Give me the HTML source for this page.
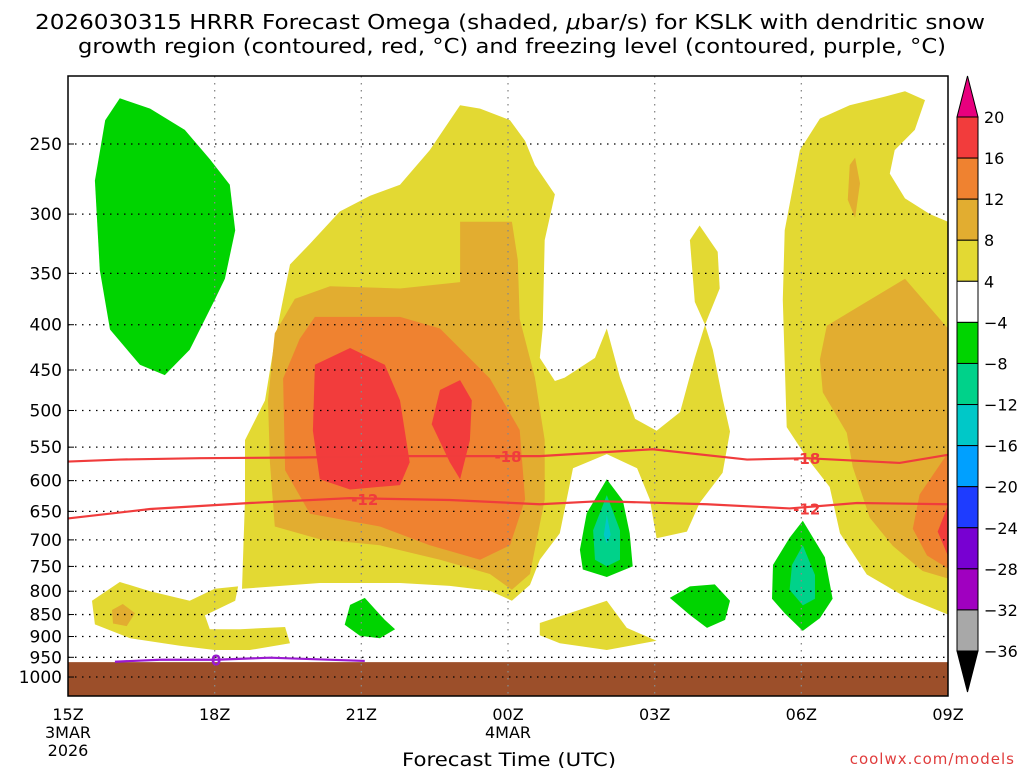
<!DOCTYPE html>
<html><head><meta charset="utf-8"><style>
html,body{margin:0;padding:0;background:#fff;width:1024px;height:768px;overflow:hidden}
svg text{font-family:"DejaVu Sans","Liberation Sans",sans-serif}
</style></head><body>
<svg id="chart" width="1024" height="768" viewBox="0 0 1024 768" xmlns="http://www.w3.org/2000/svg">
<text x="35" y="29" font-size="20" textLength="950" lengthAdjust="spacingAndGlyphs">2026030315 HRRR Forecast Omega (shaded, <tspan font-style="italic">μ</tspan>bar/s) for KSLK with dendritic snow</text>
<text x="78" y="53" font-size="20" textLength="868" lengthAdjust="spacingAndGlyphs">growth region (contoured, red, °C) and freezing level (contoured, purple, °C)</text>
<g id="fills"></g>
<g id="grid"></g>
<g id="lines"></g>
<rect x="68" y="76" width="880" height="620" fill="none" stroke="#000" stroke-width="1.5"/>
<g id="axes"></g>
<g id="cbar"></g>
<text x="402" y="766" font-size="19" textLength="214" lengthAdjust="spacingAndGlyphs">Forecast Time (UTC)</text>
<text x="1015" y="764" font-size="15" text-anchor="end" fill="#e03c3c" letter-spacing="1">coolwx.com/models</text>
</svg>
<script>
// axis ticks
const pTicks=[250,300,350,400,450,500,550,600,650,700,750,800,850,900,950,1000];
const hTicks=[0,3,6,9,12,15,18];
const hLabels=["15Z","18Z","21Z","00Z","03Z","06Z","09Z"];
const cbLevels=[20,16,12,8,4,-4,-8,-12,-16,-20,-24,-28,-32,-36];
const cbColors=["#f23c3c","#ef8230","#e2ad30","#e3d933","#ffffff","#00d400","#00d28a","#00c8c8","#00a0ff","#1e3cff","#7800d2","#a000c0","#a8a8a8"];
// shaded regions: [color, hours, pressures]
const shadeColors=["#e3d933","#e3d933","#e3d933","#e3d933","#e3d933","#e2ad30","#e2ad30","#e2ad30","#ef8230","#ef8230","#f23c3c","#f23c3c","#f23c3c","#00d400","#00d400","#00d400","#00d400","#00d400","#00d28a","#00d28a","#00c8c8"];
const shadeHours=[
[3.56,3.62,3.62,4.03,4.23,4.54,4.95,5.56,6.18,6.79,7.4,8.02,8.43,9.04,9.35,9.55,9.96,9.75,9.71,9.65,9.96,10.16,10.78,11.02,11.29,11.6,12.04,12.52,12.82,13.03,13.19,13.39,13.54,13.39,12.92,12.66,12.04,11.9,11.64,11.02,10.33,10.2,10.06,9.65,9.45,9.08,8.63,7.81,6.79,5.15],
[12.72,12.92,13.29,13.33,13.03,12.82],
[18,17.16,16.34,15.79,15.58,15.11,14.7,14.62,14.66,14.97,15.38,15.99,16.71,17.12,17.53,17.32,16.91,16.81,17.12,17.63,18],
[0.49,1.06,1.68,2.49,3.0,3.48,3.42,2.8,2.9,3.52,4.44,4.54,3.72,3.0,2.29,1.27,0.55],
[9.65,11.02,11.43,12.04,11.02,10.06,9.65],
[8.02,9.08,9.2,9.24,9.55,9.75,9.75,9.45,9.08,8.63,7.61,6.38,5.15,4.23,4.13,4.09,4.23,4.64,5.36,6.79,8.02],
[18,17.12,16.4,15.52,15.38,15.44,15.93,16.05,16.4,16.87,17.48,18],
[0.9,1.12,1.37,1.2,0.92],
[5.05,6.79,7.61,8.63,9.24,9.35,9.04,8.43,7.4,6.38,4.95,4.44,4.4,4.74],
[18,17.42,17.28,17.57,18],
[5.05,5.77,6.48,6.79,6.99,6.79,5.77,5.15,5.01],
[7.61,8.02,8.26,8.22,8.02,7.81,7.44],
[18,17.79,18],
[1.06,1.68,2.39,2.9,3.31,3.42,3.21,3.0,2.49,1.98,1.47,0.86,0.65,0.55,0.76],
[5.77,6.07,6.48,6.69,6.38,5.97,5.66],
[11.02,11.35,11.49,11.55,11.02,10.53,10.47,10.61],
[12.31,12.72,13.23,13.54,13.44,13.07,12.72],
[15.03,15.48,15.64,15.38,15.03,14.66,14.4,14.42,14.76],
[11.02,11.29,11.29,11.02,10.78,10.74],
[15.03,15.28,15.28,15.03,14.76,14.81],
[11.02,11.1,11.02,10.96]
];
const shadePres=[
[795,630,540,487,417,342,324,298,286,278,254,226,228,235,248,264,285,321,404,436,463,459,436,404,459,511,527,502,436,400,427,485,528,588,636,685,697,630,581,560,581,630,688,737,787,820,799,789,783,783],
[321,309,331,364,400,377],
[850,814,766,688,610,565,522,375,313,254,234,226,221,218,223,241,254,270,288,300,306],
[820,781,800,820,795,790,820,852,883,883,878,916,932,932,922,904,872],
[869,820,880,910,932,916,897],
[306,306,338,394,459,540,630,765,797,765,737,710,699,676,572,487,409,374,362,364,358],
[404,355,375,401,438,477,530,579,661,711,759,774],
[840,827,847,876,870],
[392,392,404,460,526,630,710,737,710,676,654,584,460,415],
[558,622,680,729,754],
[444,425,444,487,572,607,614,598,527],
[474,462,487,540,598,572,518],
[640,685,730],
[222,228,241,260,278,313,355,375,427,456,444,405,347,275,235],
[829,814,862,883,904,898,873],
[598,632,688,750,771,756,718,653],
[814,790,786,820,862,880,851],
[666,732,816,858,887,847,816,747,696],
[623,683,737,750,737,683],
[710,767,816,830,797,747],
[656,691,706,691]
];
const smallSpikeHours=[15.99,16.1,16.2,16.1,15.95];
const smallSpikePres=[264,259,277,303,289];
// temperature contours
const lineM18Hours=[0,1.06,2.7,4.74,6.79,9.65,11.96,13.89,15.11,17.01,18];
const lineM18Pres=[571,568,566,565,563,563,553,568,566,573,561];
const lineM12Hours=[0,1.68,3.72,5.77,7.81,9.65,10.88,13.07,14.76,16.14,18];
const lineM12Pres=[662,646,636,628,631,638,633,638,645,636,638];
const line0Hours=[0.96,1.88,3.03,4.13,6.07];
const line0Pres=[961,956,956,951,959];
const groundPres=962;

const X=h=>68+h*(880/18);
const Y=p=>144+384.5*Math.log(p/250);
const NS="http://www.w3.org/2000/svg";
function mk(tag,parent,attrs){const e=document.createElementNS(NS,tag);for(const k in attrs)e.setAttribute(k,attrs[k]);parent.appendChild(e);return e;}
const fills=document.getElementById('fills');
shadeHours.forEach((hs,i)=>{
  const pts=hs.map((h,j)=>X(h).toFixed(1)+','+Y(shadePres[i][j]).toFixed(1)).join(' ');
  const e=mk('polygon',fills,{points:pts,fill:shadeColors[i]});
  
  
  if(i===6){
    const s=mk('polygon',fills,{points:smallSpikeHours.map((h,j)=>X(h)+','+Y(smallSpikePres[j])).join(' '),fill:"#e2ad30"});
    
    
  }
});
const g=mk('rect',fills,{x:68,y:Y(groundPres),width:880,height:696-Y(groundPres),fill:"#9c4f2a"});


const grid=document.getElementById('grid');
pTicks.forEach(p=>{const l=mk('line',grid,{x1:68,x2:948,y1:Y(p),y2:Y(p),stroke:"#000","stroke-width":1.3,"stroke-dasharray":"1.5 5.5"});

});
hTicks.slice(1,-1).forEach(h=>{const l=mk('line',grid,{x1:X(h),x2:X(h),y1:76,y2:696,stroke:"#888","stroke-width":1.3,"stroke-dasharray":"1.5 5.5"});

});
const lines=document.getElementById('lines');
function drawLine(hs,ps,color,name){
  const l=mk('polyline',lines,{points:hs.map((h,j)=>X(h)+','+Y(ps[j])).join(' '),fill:"none",stroke:color,"stroke-width":2.2});
  
  
}
drawLine(lineM18Hours,lineM18Pres,"#f03c3c","contour-minus-18");
drawLine(lineM12Hours,lineM12Pres,"#f03c3c","contour-minus-12");
drawLine(line0Hours,line0Pres,"#9a1ad0","freezing-level-0");
function lbl(h,p,t,color){
  const x=X(h),y=Y(p);
  const e=mk('text',lines,{x:x,y:y+6,"font-size":15,"font-weight":"bold","text-anchor":"middle",fill:color});
  e.textContent=t;
  
  
}
lbl(9.0,563,"-18","#f03c3c");lbl(15.11,566,"-18","#f03c3c");
lbl(6.07,629,"-12","#f03c3c");lbl(15.11,645,"-12","#f03c3c");
lbl(3.03,956,"0","#9a1ad0");
const axes=document.getElementById('axes');
pTicks.forEach(p=>{const t=mk('text',axes,{x:62,y:Y(p)+6,"font-size":17,"text-anchor":"end"});t.textContent=p;


mk('line',axes,{x1:68,x2:74,y1:Y(p),y2:Y(p),stroke:"#000"});});
hTicks.forEach((h,i)=>{const t=mk('text',axes,{x:X(h),y:720,"font-size":16,"text-anchor":"middle"});t.textContent=hLabels[i];

});
[["3MAR",0,738],["2026",0,756],["4MAR",9,738]].forEach(a=>{const t=mk('text',axes,{x:X(a[1]),y:a[2],"font-size":16,"text-anchor":"middle"});t.textContent=a[0];

});
const cb=document.getElementById('cbar');
const cx=957,cw=21,ct=117,seg=(651-117)/13;
mk('polygon',cb,{points:`${cx},${ct} ${cx+cw},${ct} ${cx+cw/2},76`,fill:"#e8007e",stroke:"#000"});
cbColors.forEach((c,i)=>{const r=mk('rect',cb,{x:cx,y:ct+i*seg,width:cw,height:seg,fill:c,stroke:"#000","stroke-width":1});

});
mk('polygon',cb,{points:`${cx},651 ${cx+cw},651 ${cx+cw/2},692`,fill:"#000",stroke:"#000"});
cbLevels.forEach((v,i)=>{const t=mk('text',cb,{x:984,y:ct+i*seg+6,"font-size":16});t.textContent=(v<0?"−"+(-v):v);

});
</script>
</body></html>
